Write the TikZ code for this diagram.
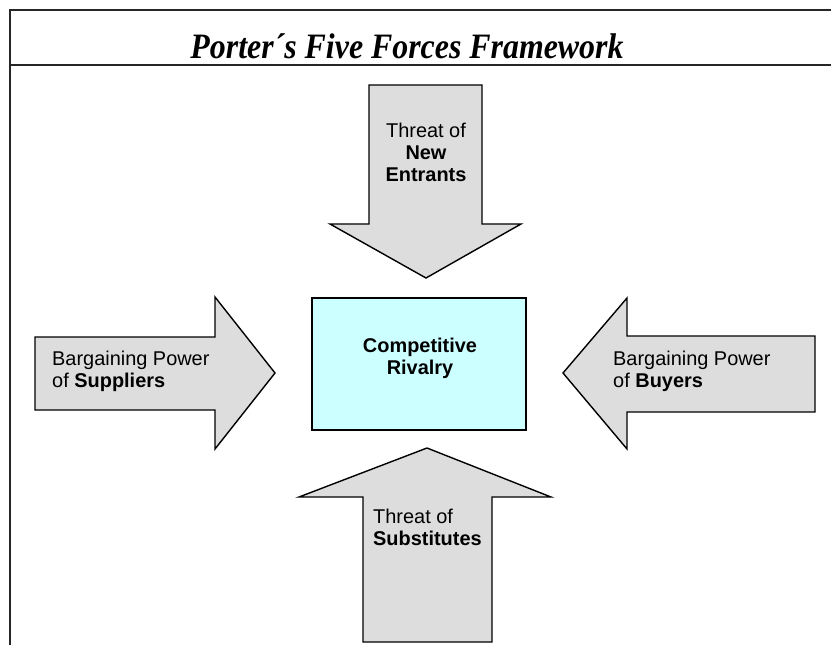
\documentclass[tikz,border=0pt]{standalone}
\usepackage{fontspec}
\setmainfont{Liberation Sans}
\newfontfamily\titlefont{Liberation Serif}
\definecolor{arrowgray}{HTML}{DDDDDD}
\definecolor{boxcyan}{HTML}{CCFFFF}
\begin{document}
\begin{tikzpicture}[x=1bp,y=-1bp,
  frameline/.style={line width=2bp,draw=black!85},
  forcearrow/.style={draw=black,line width=1.4bp,fill=arrowgray,line join=miter},
  lbl/.style={inner sep=0pt,font=\fontsize{20}{22}\selectfont},
  rivalbox/.style={draw=black,line width=1.6bp,fill=boxcyan,minimum width=214bp,minimum height=132bp,inner sep=0pt}]
\useasboundingbox (0,0) rectangle (831,645);
% frame
\draw[frameline] (10,650) -- (10,10) -- (835,10);
\draw[frameline] (10,65) -- (835,65);
\node[inner sep=0pt,anchor=base,font=\titlefont\fontsize{32}{36}\selectfont\bfseries\itshape] (title) at (407,59) {\scalebox{1}[1.12]{Porter´s Five Forces Framework}};
% top arrow (new entrants)
\draw[forcearrow] (369,85) -- (482,85) -- (482,224) -- (521,224) -- (426,278) -- (330,224) -- (369,224) -- cycle;
\node[lbl,align=center,anchor=north] (newent) at (426,123) {Threat of\\\textbf{New}\\\textbf{Entrants}};
% bottom arrow (substitutes)
\draw[forcearrow] (363,642) -- (492,642) -- (492,497) -- (551,497) -- (427,448) -- (299,497) -- (363,497) -- cycle;
\node[lbl,align=left,anchor=north west] (subst) at (373,509) {Threat of\\\textbf{Substitutes}};
% left arrow (suppliers)
\draw[forcearrow] (35,337) -- (215,337) -- (215,297) -- (275,373) -- (215,449) -- (215,410) -- (35,410) -- cycle;
\node[lbl,align=left,anchor=north west] (supp) at (52,351) {Bargaining Power\\of \textbf{Suppliers}};
% right arrow (buyers)
\draw[forcearrow] (815,336) -- (627,336) -- (627,298) -- (563,373) -- (627,449) -- (627,412) -- (815,412) -- cycle;
\node[lbl,align=left,anchor=north west] (buy) at (613,351) {Bargaining Power\\of \textbf{Buyers}};
% centre box
\node[rivalbox] (rivalry) at (419,364) {};
\node[lbl,align=center,anchor=north] (rivtext) at (420,338) {\textbf{Competitive}\\\textbf{Rivalry}};
\end{tikzpicture}
\end{document}
